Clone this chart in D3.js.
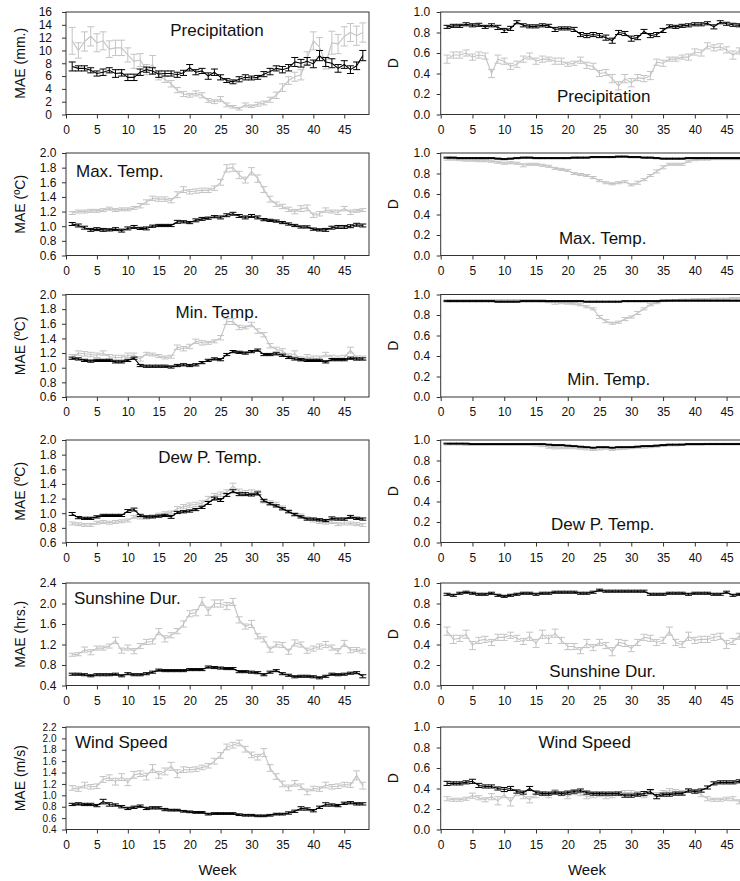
<!DOCTYPE html>
<html>
<head>
<meta charset="utf-8">
<script src="https://cdn.jsdelivr.net/npm/d3@7"></script>
<style>
  body { margin: 0; background: #fff; }
  svg { display: block; font-family: "Liberation Sans", Arial, sans-serif; }
</style>
</head>
<body>
<svg id="chart" width="740" height="881"></svg>
<script>
// Weeks 1..48
const weeks = [1,2,3,4,5,6,7,8,9,10,11,12,13,14,15,16,17,18,19,20,21,22,23,24,25,26,27,28,29,30,31,32,33,34,35,36,37,38,39,40,41,42,43,44,45,46,47,48];
const weekTicks = [0, 5, 10, 15, 20, 25, 30, 35, 40, 45];

// Y tick values
const ticksPrecip = [0, 2, 4, 6, 8, 10, 12, 14, 16];
const ticksTemp = [0.6, 0.8, 1.0, 1.2, 1.4, 1.6, 1.8, 2.0];
const ticksSun = [0.4, 0.8, 1.2, 1.6, 2.0, 2.4];
const ticksWind = [0.4, 0.6, 0.8, 1.0, 1.2, 1.4, 1.6, 1.8, 2.0, 2.2];
const ticksD = [0.0, 0.2, 0.4, 0.6, 0.8, 1.0];

// Precipitation
const precipMaeBlack = [7.5,7.2,7.2,6.9,6.4,6.6,6.9,6.4,6.5,5.8,5.8,6.6,7.0,6.8,6.3,6.4,6.4,6.2,6.5,7.3,6.6,6.8,6.0,6.6,5.8,5.3,5.1,5.5,5.8,5.7,5.8,6.3,6.7,7.2,7.0,7.3,8.2,8.0,8.3,7.9,9.2,8.2,8.0,7.2,7.8,7.0,7.6,9.2];
const precipMaeBlackErr = [0.7,0.4,0.4,0.4,0.4,0.5,0.4,0.6,0.5,0.5,0.5,0.5,0.4,0.5,0.5,0.4,0.4,0.4,0.4,0.5,0.4,0.4,0.5,0.5,0.4,0.3,0.3,0.4,0.4,0.3,0.3,0.4,0.5,0.4,0.5,0.5,0.7,0.6,0.6,0.6,0.8,0.7,0.7,0.6,0.6,0.6,0.6,0.8];
const precipMaeGray = [11.5,10.0,11.4,12.2,11.2,11.5,10.2,10.4,10.4,9.3,8.3,8.5,7.0,7.8,6.0,5.5,4.8,3.8,3.2,3.0,3.3,3.0,2.2,2.0,2.4,1.5,1.2,0.9,1.5,1.3,1.6,1.8,2.3,3.0,4.2,5.3,5.9,6.2,8.8,11.5,10.5,8.0,11.2,11.0,12.2,12.8,12.3,12.8];
const precipMaeGrayErr = [2.1,1.2,1.5,1.5,1.4,1.4,1.3,1.2,1.2,1.1,1.1,1.0,0.8,1.4,0.6,0.5,0.5,0.4,0.4,0.3,0.4,0.4,0.3,0.3,0.4,0.3,0.2,0.2,0.3,0.2,0.3,0.3,0.4,0.5,0.6,0.6,0.7,0.8,1.0,1.4,1.5,0.9,1.8,1.5,1.5,1.4,1.5,1.5];
const precipDBlack = [0.855,0.865,0.865,0.88,0.87,0.875,0.855,0.87,0.85,0.82,0.84,0.90,0.87,0.86,0.86,0.87,0.865,0.83,0.84,0.84,0.83,0.78,0.77,0.78,0.77,0.75,0.72,0.80,0.79,0.74,0.75,0.81,0.77,0.78,0.82,0.86,0.855,0.865,0.87,0.88,0.88,0.89,0.855,0.90,0.885,0.875,0.87,0.87];
const precipDBlackErr = [0.015,0.015,0.015,0.015,0.015,0.015,0.015,0.015,0.02,0.02,0.02,0.015,0.015,0.015,0.015,0.015,0.015,0.02,0.015,0.015,0.02,0.02,0.02,0.02,0.02,0.025,0.025,0.02,0.02,0.025,0.02,0.02,0.02,0.02,0.02,0.015,0.015,0.015,0.015,0.015,0.015,0.015,0.02,0.015,0.015,0.015,0.015,0.015];
const precipDGray = [0.54,0.58,0.58,0.60,0.56,0.58,0.57,0.40,0.54,0.52,0.47,0.49,0.54,0.57,0.52,0.54,0.54,0.52,0.52,0.49,0.50,0.53,0.48,0.47,0.40,0.41,0.35,0.28,0.35,0.31,0.36,0.35,0.38,0.51,0.50,0.54,0.54,0.56,0.56,0.61,0.60,0.67,0.65,0.66,0.63,0.58,0.62,0.66];
const precipDGrayErr = [0.04,0.03,0.03,0.03,0.03,0.03,0.03,0.04,0.04,0.03,0.03,0.03,0.03,0.03,0.03,0.03,0.02,0.03,0.03,0.02,0.02,0.03,0.03,0.03,0.03,0.03,0.04,0.04,0.04,0.04,0.03,0.03,0.04,0.03,0.03,0.02,0.02,0.02,0.03,0.03,0.03,0.03,0.03,0.03,0.03,0.04,0.03,0.03];

// Max. Temp.
const maxMaeBlack = [1.03,1.01,0.98,0.95,0.96,0.95,0.95,0.96,0.94,0.97,0.99,0.97,0.97,1.00,1.01,1.01,1.01,1.06,1.06,1.05,1.08,1.10,1.11,1.13,1.12,1.15,1.17,1.14,1.12,1.14,1.12,1.09,1.08,1.07,1.05,1.03,1.01,0.99,0.99,0.96,0.95,0.95,0.98,0.99,0.99,1.00,1.02,1.01];
const maxMaeBlackErr = [0.02,0.02,0.02,0.02,0.02,0.02,0.015,0.02,0.02,0.02,0.02,0.015,0.02,0.015,0.015,0.015,0.015,0.02,0.015,0.015,0.02,0.02,0.015,0.015,0.02,0.02,0.02,0.02,0.02,0.02,0.02,0.015,0.015,0.015,0.015,0.015,0.015,0.015,0.015,0.015,0.015,0.02,0.02,0.02,0.02,0.02,0.02,0.02];
const maxMaeGray = [1.18,1.20,1.20,1.21,1.21,1.22,1.24,1.22,1.23,1.23,1.25,1.28,1.33,1.38,1.37,1.37,1.35,1.43,1.50,1.47,1.48,1.49,1.49,1.52,1.60,1.79,1.80,1.70,1.63,1.75,1.65,1.50,1.37,1.30,1.27,1.23,1.20,1.24,1.25,1.15,1.17,1.22,1.20,1.19,1.24,1.19,1.21,1.22];
const maxMaeGrayErr = [0.02,0.02,0.02,0.02,0.02,0.02,0.02,0.02,0.02,0.02,0.02,0.03,0.03,0.03,0.03,0.03,0.03,0.04,0.04,0.03,0.03,0.03,0.03,0.03,0.04,0.05,0.05,0.05,0.04,0.05,0.05,0.04,0.04,0.03,0.03,0.03,0.03,0.04,0.04,0.03,0.03,0.03,0.02,0.03,0.03,0.03,0.02,0.02];
const maxDBlack = [0.955,0.955,0.95,0.95,0.95,0.95,0.95,0.95,0.945,0.94,0.945,0.95,0.955,0.955,0.95,0.95,0.95,0.95,0.95,0.95,0.955,0.955,0.955,0.96,0.96,0.96,0.96,0.965,0.965,0.96,0.96,0.955,0.955,0.95,0.945,0.945,0.945,0.945,0.95,0.95,0.95,0.95,0.95,0.95,0.95,0.95,0.95,0.95];
const maxDBlackErr = [0.005,0.005,0.005,0.005,0.005,0.005,0.005,0.005,0.005,0.005,0.005,0.005,0.005,0.005,0.005,0.005,0.005,0.005,0.005,0.005,0.005,0.005,0.005,0.005,0.005,0.005,0.005,0.005,0.005,0.005,0.005,0.005,0.005,0.005,0.005,0.005,0.005,0.005,0.005,0.005,0.005,0.005,0.005,0.005,0.005,0.005,0.005,0.005];
const maxDGray = [0.94,0.94,0.935,0.93,0.93,0.925,0.925,0.92,0.91,0.90,0.905,0.90,0.88,0.89,0.89,0.88,0.87,0.85,0.84,0.83,0.80,0.79,0.78,0.76,0.73,0.71,0.70,0.71,0.72,0.69,0.71,0.74,0.78,0.82,0.86,0.89,0.89,0.89,0.92,0.935,0.94,0.94,0.945,0.945,0.945,0.945,0.945,0.945];
const maxDGrayErr = [0.01,0.01,0.01,0.01,0.01,0.01,0.01,0.01,0.01,0.01,0.01,0.01,0.015,0.01,0.01,0.01,0.01,0.01,0.01,0.01,0.01,0.01,0.01,0.01,0.01,0.01,0.01,0.01,0.01,0.01,0.015,0.01,0.01,0.015,0.015,0.01,0.01,0.01,0.01,0.01,0.01,0.01,0.01,0.01,0.01,0.01,0.01,0.01];

// Min. Temp.
const minMaeBlack = [1.13,1.12,1.10,1.09,1.10,1.10,1.10,1.08,1.08,1.10,1.13,1.03,1.02,1.02,1.02,1.02,1.01,1.03,1.04,1.03,1.04,1.07,1.10,1.12,1.11,1.18,1.22,1.21,1.20,1.22,1.24,1.18,1.18,1.19,1.17,1.14,1.12,1.11,1.10,1.10,1.10,1.08,1.11,1.11,1.11,1.13,1.12,1.12];
const minMaeBlackErr = [0.015,0.015,0.015,0.015,0.015,0.015,0.015,0.015,0.015,0.015,0.015,0.015,0.015,0.015,0.015,0.015,0.015,0.015,0.015,0.015,0.015,0.015,0.015,0.015,0.015,0.015,0.015,0.015,0.015,0.015,0.015,0.015,0.015,0.015,0.015,0.015,0.015,0.015,0.015,0.015,0.015,0.015,0.015,0.015,0.015,0.015,0.015,0.015];
const minMaeGray = [1.15,1.20,1.19,1.18,1.17,1.20,1.15,1.14,1.14,1.17,1.17,1.12,1.19,1.18,1.16,1.14,1.15,1.28,1.26,1.29,1.36,1.34,1.34,1.36,1.41,1.63,1.63,1.55,1.55,1.59,1.50,1.45,1.30,1.25,1.23,1.16,1.19,1.12,1.15,1.13,1.13,1.18,1.14,1.13,1.14,1.24,1.13,1.13];
const minMaeGrayErr = [0.03,0.03,0.03,0.03,0.03,0.03,0.03,0.03,0.03,0.03,0.03,0.03,0.02,0.02,0.02,0.02,0.02,0.03,0.03,0.03,0.03,0.03,0.02,0.02,0.03,0.04,0.04,0.03,0.02,0.03,0.03,0.03,0.03,0.03,0.03,0.03,0.04,0.03,0.03,0.03,0.03,0.03,0.03,0.03,0.03,0.04,0.03,0.03];
const minDBlack = [0.935,0.935,0.935,0.935,0.935,0.935,0.935,0.935,0.93,0.93,0.93,0.93,0.935,0.935,0.935,0.935,0.935,0.935,0.935,0.935,0.935,0.935,0.93,0.93,0.93,0.93,0.93,0.93,0.935,0.935,0.935,0.935,0.935,0.935,0.94,0.94,0.94,0.94,0.94,0.94,0.94,0.94,0.94,0.94,0.94,0.94,0.94,0.94];
const minDBlackErr = [0.005,0.005,0.005,0.005,0.005,0.005,0.005,0.005,0.005,0.005,0.005,0.005,0.005,0.005,0.005,0.005,0.005,0.005,0.005,0.005,0.005,0.005,0.005,0.005,0.005,0.005,0.005,0.005,0.005,0.005,0.005,0.005,0.005,0.005,0.005,0.005,0.005,0.005,0.005,0.005,0.005,0.005,0.005,0.005,0.005,0.005,0.005,0.005];
const minDGray = [0.945,0.945,0.945,0.945,0.945,0.945,0.945,0.945,0.945,0.945,0.945,0.945,0.945,0.945,0.945,0.94,0.93,0.92,0.92,0.915,0.91,0.90,0.88,0.86,0.78,0.74,0.72,0.73,0.76,0.78,0.82,0.86,0.90,0.92,0.935,0.94,0.945,0.95,0.95,0.955,0.955,0.955,0.96,0.96,0.96,0.965,0.965,0.965];
const minDGrayErr = [0.005,0.005,0.005,0.005,0.005,0.005,0.005,0.005,0.005,0.005,0.005,0.005,0.005,0.005,0.005,0.01,0.01,0.015,0.01,0.01,0.01,0.01,0.01,0.01,0.015,0.015,0.01,0.01,0.015,0.01,0.015,0.01,0.01,0.01,0.005,0.005,0.005,0.005,0.005,0.005,0.005,0.005,0.005,0.005,0.005,0.005,0.005,0.005];

// Dew P. Temp.
const dewMaeBlack = [0.99,0.94,0.93,0.93,0.95,0.97,0.97,0.97,0.97,1.03,1.05,0.97,0.95,0.95,0.96,0.97,0.95,1.01,1.02,1.03,1.05,1.08,1.14,1.20,1.18,1.25,1.30,1.26,1.26,1.25,1.27,1.17,1.13,1.10,1.06,1.02,0.98,0.95,0.92,0.92,0.91,0.90,0.93,0.92,0.92,0.95,0.93,0.92];
const dewMaeBlackErr = [0.02,0.015,0.015,0.015,0.015,0.015,0.015,0.015,0.015,0.02,0.02,0.015,0.015,0.015,0.015,0.015,0.02,0.015,0.015,0.015,0.015,0.015,0.02,0.02,0.02,0.02,0.02,0.02,0.02,0.015,0.02,0.015,0.015,0.015,0.015,0.015,0.015,0.015,0.015,0.015,0.015,0.015,0.02,0.015,0.015,0.02,0.015,0.015];
const dewMaeGray = [0.86,0.85,0.84,0.84,0.87,0.88,0.87,0.88,0.89,0.90,0.95,0.94,0.94,0.96,0.98,1.00,1.01,1.06,1.09,1.11,1.12,1.14,1.20,1.24,1.26,1.29,1.37,1.30,1.28,1.29,1.28,1.17,1.14,1.12,1.08,1.03,0.99,0.97,0.93,0.90,0.88,0.87,0.88,0.85,0.87,0.86,0.85,0.84];
const dewMaeGrayErr = [0.02,0.02,0.02,0.02,0.02,0.02,0.02,0.02,0.02,0.02,0.02,0.02,0.02,0.02,0.02,0.02,0.02,0.03,0.03,0.03,0.03,0.03,0.03,0.03,0.03,0.03,0.04,0.03,0.03,0.03,0.03,0.03,0.03,0.03,0.02,0.02,0.02,0.02,0.02,0.02,0.02,0.02,0.02,0.02,0.03,0.02,0.02,0.02];
const dewDBlack = [0.965,0.965,0.965,0.965,0.96,0.96,0.96,0.96,0.96,0.96,0.96,0.96,0.96,0.96,0.96,0.96,0.955,0.95,0.95,0.945,0.94,0.935,0.93,0.925,0.93,0.93,0.925,0.93,0.93,0.93,0.935,0.94,0.94,0.945,0.95,0.955,0.955,0.955,0.96,0.96,0.96,0.96,0.96,0.96,0.96,0.96,0.96,0.96];
const dewDBlackErr = [0.004,0.004,0.004,0.004,0.004,0.004,0.004,0.004,0.004,0.004,0.004,0.004,0.004,0.004,0.004,0.004,0.004,0.004,0.004,0.004,0.004,0.004,0.004,0.004,0.004,0.004,0.004,0.004,0.004,0.004,0.004,0.004,0.004,0.004,0.004,0.004,0.004,0.004,0.004,0.004,0.004,0.004,0.004,0.004,0.004,0.004,0.004,0.004];
const dewDGray = [0.96,0.96,0.96,0.955,0.955,0.955,0.955,0.955,0.955,0.955,0.955,0.955,0.955,0.955,0.95,0.945,0.93,0.925,0.925,0.925,0.925,0.92,0.915,0.91,0.915,0.92,0.91,0.915,0.92,0.925,0.93,0.93,0.935,0.94,0.945,0.95,0.95,0.955,0.955,0.955,0.955,0.96,0.96,0.96,0.96,0.96,0.96,0.96];
const dewDGrayErr = [0.008,0.008,0.008,0.008,0.008,0.008,0.008,0.008,0.008,0.008,0.008,0.008,0.008,0.008,0.008,0.01,0.01,0.012,0.01,0.01,0.01,0.01,0.012,0.012,0.012,0.01,0.012,0.01,0.01,0.01,0.01,0.01,0.01,0.01,0.008,0.008,0.008,0.008,0.008,0.008,0.008,0.008,0.008,0.008,0.008,0.008,0.008,0.008];

// Sunshine Dur.
const sunMaeBlack = [0.62,0.62,0.61,0.59,0.61,0.61,0.61,0.62,0.59,0.63,0.61,0.61,0.63,0.66,0.70,0.69,0.69,0.69,0.69,0.71,0.71,0.71,0.76,0.75,0.74,0.73,0.73,0.67,0.67,0.66,0.65,0.61,0.66,0.69,0.63,0.60,0.57,0.58,0.58,0.57,0.55,0.58,0.62,0.61,0.62,0.64,0.65,0.58];
const sunMaeBlackErr = [0.02,0.02,0.02,0.02,0.02,0.02,0.02,0.02,0.02,0.02,0.02,0.02,0.02,0.02,0.02,0.02,0.02,0.02,0.02,0.02,0.02,0.02,0.02,0.02,0.02,0.02,0.02,0.02,0.02,0.02,0.02,0.02,0.02,0.02,0.02,0.02,0.02,0.02,0.02,0.02,0.02,0.02,0.02,0.02,0.02,0.02,0.02,0.03];
const sunMaeGray = [1.00,1.01,1.10,1.05,1.13,1.13,1.17,1.28,1.08,1.14,1.07,1.17,1.25,1.26,1.45,1.31,1.38,1.46,1.60,1.80,1.82,2.04,1.85,2.00,2.00,1.95,2.03,1.68,1.55,1.60,1.36,1.30,1.10,1.20,1.19,1.06,1.23,1.20,1.08,1.12,1.16,1.20,1.14,1.07,1.22,1.09,1.10,1.07];
const sunMaeGrayErr = [0.03,0.03,0.05,0.05,0.04,0.04,0.04,0.06,0.05,0.05,0.05,0.05,0.05,0.05,0.06,0.06,0.05,0.05,0.06,0.06,0.06,0.08,0.08,0.07,0.07,0.07,0.07,0.06,0.05,0.07,0.05,0.05,0.05,0.05,0.05,0.05,0.06,0.05,0.05,0.05,0.05,0.06,0.05,0.05,0.06,0.05,0.04,0.04];
const sunDBlack = [0.89,0.88,0.90,0.91,0.90,0.89,0.89,0.90,0.88,0.87,0.88,0.89,0.90,0.90,0.89,0.90,0.90,0.91,0.91,0.91,0.91,0.90,0.90,0.91,0.93,0.92,0.92,0.92,0.92,0.92,0.92,0.92,0.89,0.89,0.89,0.90,0.90,0.90,0.89,0.90,0.90,0.90,0.89,0.89,0.91,0.88,0.89,0.89];
const sunDBlackErr = [0.01,0.01,0.01,0.01,0.01,0.01,0.01,0.01,0.01,0.01,0.01,0.01,0.01,0.01,0.01,0.01,0.01,0.01,0.01,0.01,0.01,0.01,0.01,0.01,0.01,0.01,0.01,0.01,0.01,0.01,0.01,0.01,0.01,0.01,0.01,0.01,0.01,0.01,0.01,0.01,0.01,0.01,0.01,0.01,0.01,0.01,0.01,0.01];
const sunDGray = [0.53,0.45,0.46,0.50,0.39,0.44,0.45,0.42,0.47,0.47,0.49,0.46,0.43,0.48,0.41,0.50,0.45,0.51,0.44,0.38,0.38,0.34,0.41,0.37,0.42,0.39,0.33,0.42,0.41,0.36,0.42,0.47,0.46,0.42,0.44,0.53,0.42,0.40,0.48,0.44,0.45,0.45,0.47,0.48,0.40,0.43,0.48,0.47];
const sunDGrayErr = [0.04,0.04,0.03,0.04,0.04,0.03,0.03,0.03,0.03,0.03,0.03,0.03,0.03,0.04,0.04,0.04,0.04,0.04,0.03,0.03,0.03,0.03,0.04,0.03,0.03,0.03,0.04,0.03,0.03,0.03,0.03,0.03,0.03,0.03,0.03,0.04,0.03,0.03,0.04,0.03,0.03,0.03,0.03,0.03,0.04,0.03,0.03,0.03];

// Wind Speed
const windMaeBlack = [0.84,0.85,0.84,0.84,0.82,0.89,0.84,0.83,0.80,0.77,0.79,0.81,0.77,0.78,0.78,0.75,0.74,0.74,0.72,0.71,0.70,0.70,0.67,0.68,0.68,0.68,0.68,0.66,0.65,0.65,0.64,0.64,0.65,0.67,0.67,0.69,0.72,0.77,0.76,0.73,0.79,0.84,0.83,0.82,0.86,0.87,0.85,0.85];
const windMaeBlackErr = [0.02,0.02,0.02,0.02,0.02,0.04,0.03,0.02,0.02,0.02,0.02,0.02,0.02,0.02,0.02,0.02,0.015,0.015,0.015,0.015,0.015,0.015,0.015,0.015,0.015,0.015,0.015,0.015,0.015,0.015,0.015,0.015,0.015,0.015,0.015,0.02,0.02,0.03,0.02,0.02,0.02,0.03,0.02,0.02,0.02,0.02,0.02,0.02];
const windMaeGray = [1.13,1.11,1.18,1.15,1.16,1.28,1.31,1.24,1.32,1.23,1.36,1.38,1.33,1.47,1.36,1.42,1.51,1.38,1.45,1.45,1.46,1.49,1.52,1.60,1.70,1.85,1.88,1.92,1.81,1.71,1.67,1.75,1.48,1.33,1.20,1.13,1.21,1.15,1.06,1.12,1.11,1.18,1.15,1.16,1.19,1.18,1.35,1.17];
const windMaeGrayErr = [0.04,0.04,0.05,0.04,0.04,0.05,0.05,0.06,0.06,0.06,0.06,0.05,0.06,0.07,0.06,0.06,0.07,0.07,0.05,0.04,0.04,0.04,0.04,0.05,0.05,0.05,0.05,0.05,0.05,0.05,0.05,0.07,0.06,0.05,0.05,0.05,0.05,0.05,0.05,0.04,0.04,0.05,0.04,0.04,0.04,0.04,0.08,0.06];
const windDBlack = [0.45,0.45,0.45,0.46,0.47,0.43,0.42,0.42,0.40,0.39,0.40,0.37,0.36,0.40,0.36,0.35,0.35,0.36,0.35,0.36,0.37,0.38,0.36,0.35,0.35,0.35,0.35,0.35,0.33,0.33,0.34,0.35,0.37,0.32,0.34,0.34,0.35,0.35,0.38,0.37,0.38,0.41,0.45,0.46,0.46,0.46,0.47,0.45];
const windDBlackErr = [0.02,0.015,0.015,0.015,0.02,0.02,0.015,0.015,0.015,0.02,0.02,0.015,0.015,0.02,0.015,0.015,0.015,0.015,0.015,0.015,0.015,0.015,0.015,0.015,0.015,0.015,0.015,0.015,0.015,0.015,0.015,0.02,0.02,0.02,0.015,0.015,0.015,0.015,0.015,0.015,0.015,0.015,0.015,0.015,0.015,0.015,0.015,0.015];
const windDGray = [0.30,0.29,0.29,0.30,0.33,0.31,0.29,0.32,0.28,0.34,0.27,0.36,0.33,0.29,0.34,0.35,0.33,0.37,0.35,0.32,0.36,0.35,0.32,0.33,0.34,0.32,0.33,0.35,0.36,0.36,0.35,0.33,0.36,0.34,0.36,0.38,0.37,0.36,0.38,0.37,0.34,0.30,0.29,0.29,0.30,0.30,0.27,0.24];
const windDGrayErr = [0.02,0.015,0.015,0.015,0.025,0.02,0.02,0.03,0.04,0.03,0.04,0.03,0.03,0.03,0.03,0.02,0.02,0.02,0.02,0.02,0.02,0.02,0.02,0.02,0.02,0.02,0.02,0.02,0.02,0.02,0.02,0.02,0.02,0.02,0.02,0.02,0.02,0.02,0.02,0.02,0.02,0.02,0.015,0.015,0.015,0.02,0.02,0.02];

const BLACK = '#000000';
const GRAY = '#c4c4c4';

// layout
const rowTop = [12, 153, 294.5, 440, 583, 727];
const plotH = 102.5;
const colX = [[66, 369], [440.7, 752]];

const fmt1 = d3.format('.1f');
const fmt0 = d3.format('d');

const panels = [
  { row: 0, col: 0, gray: precipMaeGray, grayErr: precipMaeGrayErr, black: precipMaeBlack, blackErr: precipMaeBlackErr,
    ticks: ticksPrecip, fmt: fmt0, label: 'MAE (mm.)', title: 'Precipitation', tx: 151, ty: 24, anchor: 'middle', pad: 10 },
  { row: 0, col: 1, gray: precipDGray, grayErr: precipDGrayErr, black: precipDBlack, blackErr: precipDBlackErr,
    ticks: ticksD, fmt: fmt1, label: 'D', title: 'Precipitation', tx: 163, ty: 90, anchor: 'middle' },
  { row: 1, col: 0, gray: maxMaeGray, grayErr: maxMaeGrayErr, black: maxMaeBlack, blackErr: maxMaeBlackErr,
    ticks: ticksTemp, fmt: fmt1, label: 'MAE (ºC)', title: 'Max. Temp.', tx: 10, ty: 24, anchor: 'start' },
  { row: 1, col: 1, gray: maxDGray, grayErr: maxDGrayErr, black: maxDBlack, blackErr: maxDBlackErr,
    ticks: ticksD, fmt: fmt1, label: 'D', title: 'Max. Temp.', tx: 162, ty: 91, anchor: 'middle' },
  { row: 2, col: 0, gray: minMaeGray, grayErr: minMaeGrayErr, black: minMaeBlack, blackErr: minMaeBlackErr,
    ticks: ticksTemp, fmt: fmt1, label: 'MAE (ºC)', title: 'Min. Temp.', tx: 151, ty: 23.5, anchor: 'middle' },
  { row: 2, col: 1, gray: minDGray, grayErr: minDGrayErr, black: minDBlack, blackErr: minDBlackErr,
    ticks: ticksD, fmt: fmt1, label: 'D', title: 'Min. Temp.', tx: 168, ty: 90.5, anchor: 'middle' },
  { row: 3, col: 0, gray: dewMaeGray, grayErr: dewMaeGrayErr, black: dewMaeBlack, blackErr: dewMaeBlackErr,
    ticks: ticksTemp, fmt: fmt1, label: 'MAE (ºC)', title: 'Dew P. Temp.', tx: 144, ty: 23, anchor: 'middle' },
  { row: 3, col: 1, gray: dewDGray, grayErr: dewDGrayErr, black: dewDBlack, blackErr: dewDBlackErr,
    ticks: ticksD, fmt: fmt1, label: 'D', title: 'Dew P. Temp.', tx: 162, ty: 90, anchor: 'middle' },
  { row: 4, col: 0, gray: sunMaeGray, grayErr: sunMaeGrayErr, black: sunMaeBlack, blackErr: sunMaeBlackErr,
    ticks: ticksSun, fmt: fmt1, label: 'MAE (hrs.)', title: 'Sunshine Dur.', tx: 8, ty: 21, anchor: 'start' },
  { row: 4, col: 1, gray: sunDGray, grayErr: sunDGrayErr, black: sunDBlack, blackErr: sunDBlackErr,
    ticks: ticksD, fmt: fmt1, label: 'D', title: 'Sunshine Dur.', tx: 162, ty: 93.5, anchor: 'middle' },
  { row: 5, col: 0, gray: windMaeGray, grayErr: windMaeGrayErr, black: windMaeBlack, blackErr: windMaeBlackErr,
    ticks: ticksWind, fmt: fmt1, label: 'MAE (m/s)', title: 'Wind Speed', tx: 9, ty: 21.3, anchor: 'start', tickFont: 10 },
  { row: 5, col: 1, gray: windDGray, grayErr: windDGrayErr, black: windDBlack, blackErr: windDBlackErr,
    ticks: ticksD, fmt: fmt1, label: 'D', title: 'Wind Speed', tx: 144, ty: 21.3, anchor: 'middle' },
];

const svg = d3.select('#chart');

for (const p of panels) {
  const [x0, x1] = colX[p.col];
  const top = rowTop[p.row];
  const bottom = top + plotH;

  const x = d3.scaleLinear().domain([0, 49]).range([x0, x1]);
  const y = d3.scaleLinear().domain(d3.extent(p.ticks)).range([bottom, top]);

  const g = svg.append('g');

  // Series: gray first, black on top
  drawSeries(g, x, y, p.gray, p.grayErr, GRAY);
  drawSeries(g, x, y, p.black, p.blackErr, BLACK);

  // frame
  g.append('rect')
    .attr('x', x0).attr('y', top)
    .attr('width', x1 - x0).attr('height', plotH)
    .attr('fill', 'none').attr('stroke', '#333').attr('stroke-width', 1);

  // axes
  const yAxis = d3.axisLeft(y).tickValues(p.ticks).tickFormat(p.fmt)
    .tickSize(4).tickPadding(p.pad ?? (p.col === 0 ? 5.5 : 6.5));
  const ya = g.append('g').attr('transform', `translate(${x0},0)`).call(yAxis);

  const xAxis = d3.axisBottom(x).tickValues(weekTicks).tickFormat(fmt0)
    .tickSize(4).tickPadding(6.5);
  const xa = g.append('g').attr('transform', `translate(0,${bottom})`).call(xAxis);

  for (const a of [ya, xa]) {
    a.select('.domain').remove();
    a.selectAll('.tick line').attr('stroke', '#333');
    a.selectAll('.tick text').attr('fill', '#111')
      .style('font-size', '12px').style('font-family', '"Liberation Sans", Arial, sans-serif');
  }
  if (p.tickFont) ya.selectAll('.tick text').style('font-size', p.tickFont + 'px');

  // y label
  const lx = p.col === 0 ? 25 : 398;
  g.append('text')
    .attr('transform', `translate(${lx},${(top + bottom) / 2}) rotate(-90)`)
    .attr('text-anchor', 'middle')
    .style('font-size', '14px')
    .attr('fill', '#111')
    .text(p.label);

  // title
  g.append('text')
    .attr('x', x0 + p.tx).attr('y', top + p.ty)
    .attr('text-anchor', p.anchor)
    .style('font-size', '17px')
    .attr('fill', '#111')
    .text(p.title);

  // Week label on the bottom row
  if (p.row === 5) {
    g.append('text')
      .attr('x', p.col === 0 ? (x0 + x1) / 2 : 587)
      .attr('y', 875)
      .attr('text-anchor', 'middle')
      .style('font-size', '15px')
      .attr('fill', '#111')
      .text('Week');
  }
}

function drawSeries(g, x, y, vals, errs, color) {
  const s = g.append('g');
  s.append('path')
    .datum(vals)
    .attr('fill', 'none')
    .attr('stroke', color)
    .attr('stroke-width', 1.1)
    .attr('d', d3.line().x((d, i) => x(weeks[i])).y(d => y(d)));

  const cap = 3.5;
  const bars = s.selectAll('g.eb')
    .data(vals.map((v, i) => ({ w: weeks[i], v, e: errs[i] })))
    .join('g')
    .attr('class', 'eb')
    .attr('stroke', color)
    .attr('stroke-width', 1);

  bars.append('line')
    .attr('x1', d => x(d.w)).attr('x2', d => x(d.w))
    .attr('y1', d => y(d.v - d.e)).attr('y2', d => y(d.v + d.e));
  bars.append('line')
    .attr('x1', d => x(d.w) - cap).attr('x2', d => x(d.w) + cap)
    .attr('y1', d => y(d.v + d.e)).attr('y2', d => y(d.v + d.e));
  bars.append('line')
    .attr('x1', d => x(d.w) - cap).attr('x2', d => x(d.w) + cap)
    .attr('y1', d => y(d.v - d.e)).attr('y2', d => y(d.v - d.e));
}
</script>
</body>
</html>
